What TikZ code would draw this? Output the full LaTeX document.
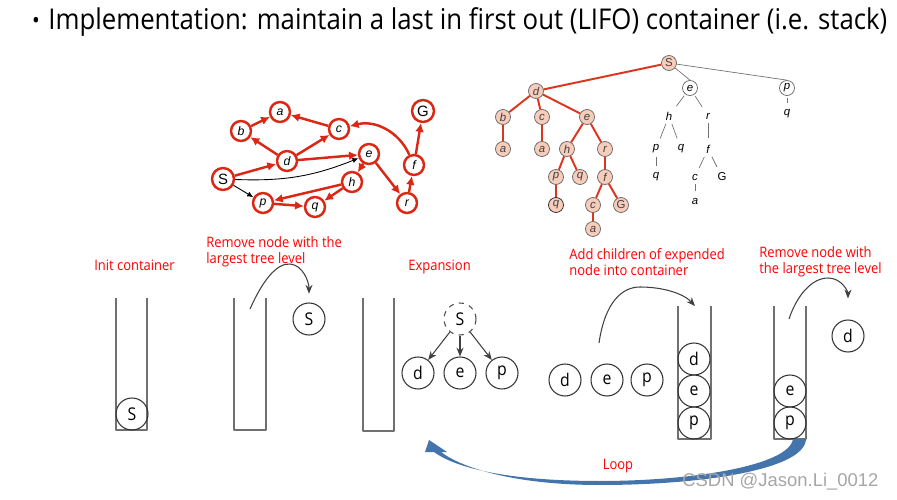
\documentclass[tikz,border=0pt]{standalone}
\usepackage{fontspec}
\setmainfont{Open Sans}
\newfontfamily\yahei{Open Sans}[FakeStretch=0.9]
\newfontfamily\helv{Liberation Sans}
\usetikzlibrary{arrows.meta,calc}
\definecolor{graphred}{RGB}{218,40,20}
\definecolor{treered}{RGB}{222,52,30}
\definecolor{peach}{RGB}{246,204,186}
\definecolor{loopblue}{RGB}{68,116,172}
\definecolor{tubegray}{RGB}{112,112,112}

\begin{document}
\begin{tikzpicture}[x=0.02cm,y=-0.02cm,>=Latex,line join=round,
    gnode/.style={circle,draw=graphred,line width=1.4pt,fill=white,minimum size=0.4cm,
      inner sep=0pt,font=\helv\itshape\fontsize{7}{8}\selectfont},
    gbig/.style={gnode,minimum size=0.44cm,font=\helv\fontsize{8.5}{9}\selectfont},
    gedge/.style={->,graphred,line width=1.4pt,>={Latex[length=5pt,width=5pt]}},
    gthin/.style={->,black,line width=0.5pt,>={Latex[length=3.5pt,width=3pt]}},
    tnode/.style={circle,draw=black!60,fill=peach,line width=0.4pt,minimum size=0.3cm,
      inner sep=0pt,font=\helv\itshape\fontsize{6.5}{7}\selectfont,text=black!75},
    tedge/.style={treered,line width=1.1pt},
    pnode/.style={inner sep=1pt,font=\helv\itshape\fontsize{6.5}{7}\selectfont},
    pcirc/.style={pnode,circle,draw=black!60,line width=0.4pt,minimum size=0.3cm,inner sep=0pt},
    pedge/.style={black!55,line width=0.4pt},
    cnode/.style={circle,draw=black!80,line width=0.6pt,minimum size=0.64cm,inner sep=0pt,
      font=\yahei\fontsize{10}{11}\selectfont},
    tube/.style={draw=tubegray,line width=0.7pt},
    note/.style={red,font=\yahei\fontsize{8.2}{9.2}\selectfont,align=left,anchor=west,inner sep=0pt},
    move/.style={->,black!75,line width=0.6pt,>={Stealth[length=5pt,width=4pt]}}]
    \useasboundingbox (0,0) rectangle (897,500);
    % ============ Title ============
    \node[font=\yahei\fontsize{13}{15}\selectfont] (bullet) at (36,23) {\textbullet};
    \node[anchor=west,inner sep=0pt,font=\yahei\fontsize{16.3}{18}\selectfont] (title) at (48,22)
      {Implementation: maintain a last in first out (LIFO) container (i.e. stack)};
    % ============ Search graph ============
    \node[gnode] (a) at (280,112) {a};
    \node[gnode] (b) at (241,131) {b};
    \node[gnode] (c) at (339,129) {c};
    \node[gbig]  (G) at (423,111) {G};
    \node[gnode] (d) at (287,161) {d};
    \node[gnode] (e) at (369,154) {e};
    \node[gnode] (f) at (414,165) {f};
    \node[gbig]  (S) at (223,179) {S};
    \node[gnode] (h) at (352,182) {h};
    \node[gnode] (p) at (263,203) {p};
    \node[gnode] (q) at (315,207) {q};
    \node[gnode] (r) at (407,203) {r};
    \draw[gedge] (b) -- (a);
    \draw[gedge] (c) -- (a);
    \draw[gedge] (d) -- (b);
    \draw[gedge] (d) -- (c);
    \draw[gedge] (S) -- (d);
    \draw[gedge] (d) -- (e);
    \draw[gedge] (e) -- (h);
    \draw[gedge] (e) -- (r);
    \draw[gedge] (h) -- (p);
    \draw[gedge] (h) -- (q);
    \draw[gedge] (p) -- (q);
    \draw[gedge] (r) -- (f);
    \draw[gedge] (f) -- (G);
    \draw[gedge] (f) to[bend right=40] (c);
    \draw[gthin] (S) to[bend right=12] (e);
    \draw[gthin] (S) -- (p);
    % ============ Search tree (explored part in red) ============
    \node[tnode] (tS) at (669,63) {\upshape S};
    \node[tnode] (td) at (536,91) {d};
    \node[tnode] (tb) at (503,117) {b};
    \node[tnode] (tc) at (542,117) {c};
    \node[tnode] (te) at (587,117) {e};
    \node[tnode] (ta1) at (503,149) {a};
    \node[tnode] (ta2) at (542,149) {a};
    \node[tnode] (th) at (567,149) {h};
    \node[tnode] (tr) at (605,149) {r};
    \node[tnode] (tp) at (556,177) {p};
    \node[tnode] (tq) at (580,177) {q};
    \node[tnode] (tf) at (605,177) {f};
    \node[tnode,draw=black!85] (tq2) at (556,205) {q};
    \node[tnode] (tc2) at (593,205) {c};
    \node[tnode] (tG) at (621,205) {\upshape G};
    \node[tnode] (ta3) at (593,229) {a};
    \foreach \u/\v in {tS/td,td/tb,td/tc,td/te,tb/ta1,tc/ta2,te/th,te/tr,
                       th/tp,th/tq,tr/tf,tp/tq2,tf/tc2,tf/tG,tc2/ta3}
      \draw[tedge] (\u) -- (\v);
    % ============ Search tree (not yet explored) ============
    \node[pcirc] (re) at (690,88) {e};
    \node[pcirc] (rp) at (787,88) {p};
    \node[pnode] (rh) at (669,116) {h};
    \node[pnode] (rr) at (708,116) {r};
    \node[pnode] (rp2) at (656,149) {p};
    \node[pnode] (rq) at (681,149) {q};
    \node[pnode] (rf) at (708,149) {f};
    \node[pnode] (rq2) at (656,177) {q};
    \node[pnode] (rc) at (695,177) {c};
    \node[pnode,font=\helv\fontsize{6.5}{7}\selectfont] (rG) at (722,177) {G};
    \node[pnode] (ra) at (695,201) {a};
    \node[pnode] (rq3) at (787,114) {q};
    \draw[pedge] (tS) -- (re.north);
    \draw[pedge] (tS) -- (rp.north);
    \foreach \u/\v in {re/rh,re/rr,rh/rp2,rh/rq,rr/rf,rp2/rq2,rf/rc,rf/rG,rc/ra,rp/rq3}
      \draw[pedge,shorten <=1pt,shorten >=2.5pt] (\u) -- (\v);
    % ============ Step 1: init ============
    \node[note] (n1) at (94,265) {Init container};
    \draw[tube] (116,298) -- (116,430) -- (147,430) -- (147,298);
    \node[cnode] (c1s) at (132,414) {S};
    % ============ Step 2: pop ============
    \node[note] (n2) at (206,252) {Remove node with the\\largest tree level};
    \draw[tube] (234,298) -- (234,430) -- (266,430) -- (266,298);
    \node[cnode] (c2s) at (309,319) {S};
    \coordinate (out2) at (250,309);
    \draw[move,shorten >=5pt] (out2) .. controls (262,282) and (276,263) .. (290,264)
      .. controls (303,265) and (309,282) .. (c2s.north);
    % ============ Step 3: expansion ============
    \node[note] (n3) at (408,267) {Expansion};
    \draw[tube] (363,298) -- (363,431) -- (394,431) -- (394,298);
    \node[cnode,dashed,draw=black!70] (xs) at (460,319) {S};
    \node[cnode] (xd) at (418,373) {d};
    \node[cnode] (xe) at (460,373) {e};
    \node[cnode] (xp) at (502,373) {p};
    \draw[move] (xs) -- (xd);
    \draw[move] (xs) -- (xe);
    \draw[move] (xs) -- (xp);
    % ============ Step 4: push children ============
    \node[note] (n4) at (569,262) {Add children of expended\\node into container};
    \node[cnode] (kd) at (565,380) {d};
    \node[cnode] (ke) at (607,380) {e};
    \node[cnode] (kp) at (647,380) {p};
    \draw[tube] (678,306) -- (678,439) -- (711,439) -- (711,306);
    \node[cnode] (c4d) at (694,359) {d};
    \node[cnode] (c4e) at (694,391) {e};
    \node[cnode] (c4p) at (694,423) {p};
    \coordinate (in4) at (695,306);
    \draw[move] (599,343) .. controls (605,302) and (622,287) .. (640,287)
      .. controls (664,287) and (684,294) .. (in4);
    % ============ Step 5: pop again ============
    \node[note] (n5) at (759,262) {Remove node with\\the largest tree level};
    \draw[tube] (774,306) -- (774,439) -- (806,439) -- (806,306);
    \node[cnode] (c5e) at (790,391) {e};
    \node[cnode] (c5p) at (790,423) {p};
    \node[cnode] (c5d) at (848,336) {d};
    \coordinate (out5) at (789,319);
    \draw[move,shorten >=12pt] (out5) .. controls (797,295) and (812,278) .. (828,278)
      .. controls (842,278) and (848,292) .. (c5d.north);
    % ============ Loop arrow ============
    \fill[loopblue] (806,439) .. controls (805,470) and (700,485) .. (600,485)
      .. controls (515,485) and (462,468) .. (441,452) -- (447,452) -- (429,440)
      -- (425,452) -- (434,452) .. controls (460,471) and (520,481) .. (600,481)
      .. controls (690,481) and (789,466) .. (793,439) -- cycle;
    \node[red,font=\yahei\fontsize{8.2}{9.2}\selectfont] (loop) at (618,466) {Loop};
    \node[anchor=west,inner sep=0pt,text=black!35,font=\helv\fontsize{10.5}{12}\selectfont]
      (mark) at (682,482) {CSDN @Jason.Li\_0012};
  \end{tikzpicture}
\end{document}
